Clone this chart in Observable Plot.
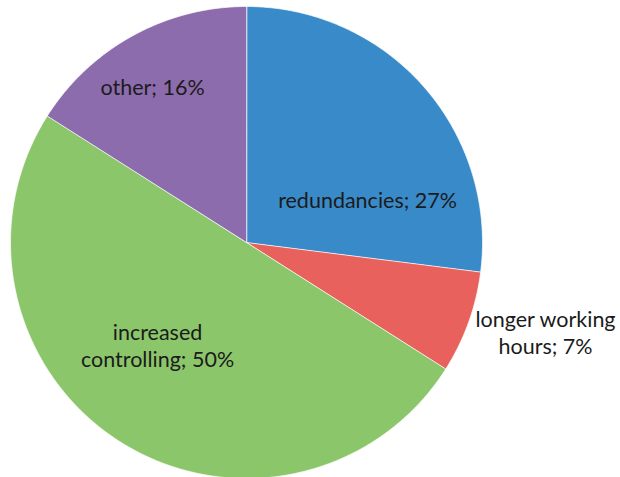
<!DOCTYPE html>
<html><head><meta charset="utf-8">
<script src="https://cdn.jsdelivr.net/npm/d3@7"></script>
<script src="https://cdn.jsdelivr.net/npm/@observablehq/plot@0.6"></script>
<style>body{margin:0;background:#fff}</style>
</head><body><div id="chart"></div>
<script>
const categories = ["redundancies", "longer working hours", "increased controlling", "other"];
const shares = [27, 7, 50, 16];
const labelLines = [["redundancies; 27%"], ["longer working", "hours; 7%"], ["increased", "controlling; 50%"], ["other; 16%"]];
const colors = ["#398ac9", "#e8615c", "#8bc66b", "#8d6cae"];
// label anchor positions in units of the pie radius (x right, y up)
const labelAnchors = [[0.513, 0.174], [1.267, -0.385], [-0.377, -0.441], [-0.398, 0.653]];

const W = 620, H = 477, cx = 246, cy = 242, R = 236;
const pie = d3.pie().sort(null).value(d => d.share);
const data = categories.map((c, i) => ({name: c, share: shares[i]}));
const arcs = pie(data);
const pts = [];
arcs.forEach(a => {
  pts.push({name: a.data.name, x: 0, y: 0});
  const n = Math.max(2, Math.ceil((a.endAngle - a.startAngle) / (Math.PI / 360)));
  for (let k = 0; k <= n; k++) {
    const t = a.startAngle + (a.endAngle - a.startAngle) * k / n;
    pts.push({name: a.data.name, x: Math.sin(t), y: Math.cos(t)});
  }
});
const labels = [];
categories.forEach((c, i) => {
  const ls = labelLines[i];
  ls.forEach((l, j) => {
    labels.push({text: l, x: labelAnchors[i][0], y: labelAnchors[i][1] - (j - (ls.length - 1) / 2) * 27 / R});
  });
});

const chart = Plot.plot({
  width: W, height: H,
  margin: 0,
  x: {domain: [-cx / R, (W - cx) / R], range: [0, W], axis: null},
  y: {domain: [(cy - H) / R, cy / R], range: [H, 0], axis: null},
  color: {domain: categories, range: colors},
  style: {background: "#fff"},
  marks: [
    Plot.line(pts, {x: "x", y: "y", z: "name", fill: "name", stroke: "#ffffff", strokeWidth: 1, strokeOpacity: 0.7, curve: "linear-closed"}),
    Plot.text(labels, {x: "x", y: "y", text: "text", fill: "#1b1b1b", fontSize: 21.5, fontFamily: "Lato", textAnchor: "middle"})
  ]
});
document.getElementById("chart").appendChild(chart);
</script>
</body></html>
